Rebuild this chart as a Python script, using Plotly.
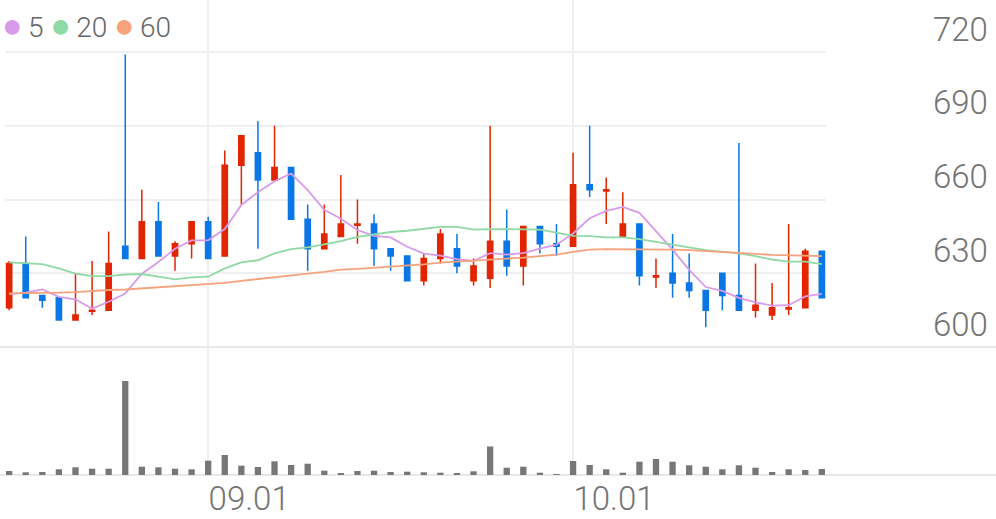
import plotly.graph_objects as go
from plotly.subplots import make_subplots

# trading days (MM.DD)
dates = ["08.13", "08.14", "08.18", "08.19", "08.20", "08.21", "08.22", "08.25", "08.26", "08.27",
         "08.28", "08.29", "09.01", "09.02", "09.03", "09.04", "09.05", "09.08", "09.09", "09.10",
         "09.11", "09.12", "09.15", "09.16", "09.17", "09.18", "09.19", "09.22", "09.23", "09.24",
         "09.25", "09.26", "09.29", "09.30", "10.01", "10.02", "10.10", "10.13", "10.14", "10.15",
         "10.16", "10.17", "10.20", "10.21", "10.22", "10.23", "10.24", "10.27", "10.28", "10.29"]

opens = [616, 634, 621, 620, 611, 614.5, 615, 641, 636, 651,
         637, 642, 651, 637, 674, 679, 668, 673, 652, 640,
         645, 649.5, 650, 640, 637, 627, 636, 640, 627, 628,
         643, 633, 649, 642, 641, 666, 663.5, 645, 650, 628.5,
         630, 626, 623, 630, 621, 615, 613, 615.5, 616, 639]
highs = [635, 645, 621, 620, 630, 635, 647, 719, 664, 659,
         643, 651, 653, 680, 686, 692, 690, 673, 658, 658,
         670, 660, 654, 640, 637, 638, 648, 646, 636, 690,
         656, 649, 649, 650, 679, 690, 669, 663, 650, 636,
         646, 638, 623, 630, 683, 634, 626, 650, 640, 639]
lows = [615, 620, 616, 611, 611, 613, 615, 636, 636, 637,
        631, 636, 636, 637, 658, 640, 668, 652, 631, 640,
        645, 642, 633, 631, 627, 625, 634, 630, 625, 624,
        629, 625, 638, 637, 641, 661, 650, 645, 625, 624,
        620, 620, 608, 615, 615, 612, 611, 613, 616, 620]
closes = [634, 620, 619, 611, 613, 615, 634, 636, 651, 637,
          642, 651, 636, 674, 686, 668, 673, 652, 640, 646,
          650, 650, 640, 637, 627, 636, 646, 633, 633, 643,
          633, 649, 642, 641, 666, 664, 664, 650, 629, 629,
          626, 623, 615, 621, 615, 617, 616, 616, 639, 620]

ma5 = [621.5, 622.1, 623.4, 620.4, 619.4, 615.6, 618.4, 621.8, 629.8, 634.6,
       640.0, 643.4, 643.4, 648.0, 657.8, 663.0, 667.4, 670.6, 663.8, 655.8,
       652.2, 647.6, 645.2, 644.6, 640.8, 638.0, 637.2, 635.8, 635.0, 638.2,
       637.6, 638.2, 640.0, 641.6, 646.2, 652.4, 655.4, 657.0, 654.6, 647.2,
       639.6, 631.4, 624.4, 622.8, 620.0, 618.2, 616.8, 617.0, 620.6, 621.6]
ma20 = [634.4, 634.0, 633.7, 632.0, 629.9, 628.8, 628.8, 629.5, 629.7, 628.6,
        627.5, 628.3, 628.6, 632.0, 634.4, 635.3, 638.1, 639.8, 640.5, 641.8,
        643.1, 644.8, 645.9, 646.8, 647.3, 648.2, 648.9, 648.9, 647.8, 648.0,
        648.0, 647.8, 647.8, 646.5, 645.2, 645.1, 644.6, 644.6, 643.9, 642.8,
        641.8, 640.5, 639.4, 638.7, 638.1, 637.0, 635.6, 634.7, 634.7, 633.7]
ma60 = [621.8, 621.8, 622.1, 622.1, 622.3, 622.9, 623.2, 623.4, 623.8, 624.2,
        624.8, 625.2, 625.6, 626.1, 626.9, 627.7, 628.6, 629.4, 629.9, 630.6,
        631.5, 631.8, 632.2, 632.6, 633.0, 633.6, 634.3, 634.8, 635.3, 635.8,
        636.0, 636.4, 637.0, 637.6, 638.7, 639.6, 639.8, 639.8, 639.6, 639.6,
        639.6, 639.4, 639.1, 638.7, 638.3, 637.9, 637.5, 637.4, 637.4, 637.0]

# volume (thousand shares)
volumes = [40, 27, 30, 57, 77, 63, 63, 940, 83, 77,
           63, 57, 143, 200, 93, 80, 137, 100, 113, 43,
           20, 40, 43, 30, 33, 27, 23, 17, 37, 285,
           73, 83, 23, 7, 140, 100, 57, 23, 133, 160,
           133, 97, 83, 57, 97, 73, 30, 57, 50, 60]

price_ticks = [600, 630, 660, 690, 720]
date_ticks = ["09.01", "10.01"]

ma_lines = [("5", ma5, "#d79be9"), ("20", ma20, "#8fd9a4"), ("60", ma60, "#f6a27c")]

RED = "#e22500"
BLUE = "#0b76e6"
FONT = dict(family="Roboto", size=33, color="#747474", weight=300)

fig = make_subplots(rows=2, cols=1, shared_xaxes=False, vertical_spacing=0)

fig.add_trace(
    go.Candlestick(
        x=dates, open=opens, high=highs, low=lows, close=closes,
        increasing=dict(line=dict(color=RED, width=1.5), fillcolor=RED),
        decreasing=dict(line=dict(color=BLUE, width=1.5), fillcolor=BLUE),
        showlegend=False, hoverinfo='skip'
    ),
    row=1, col=1
)

for name, vals, color in ma_lines:
    fig.add_trace(
        go.Scatter(x=dates, y=vals, mode='lines', name=name, line=dict(color=color, width=1.8),
                   showlegend=False, hoverinfo='skip'),
        row=1, col=1
    )

fig.add_trace(
    go.Bar(x=dates, y=volumes, marker=dict(color="#777777", line=dict(width=0)),
           showlegend=False, hoverinfo='skip'),
    row=2, col=1
)

W, H = 996, 519
x_dom = [5 / W, 826 / W]

fig.update_layout(
    width=W, height=H,
    margin=dict(l=0, r=0, t=0, b=0, autoexpand=False),
    paper_bgcolor='white', plot_bgcolor='white',
    font=FONT,
    boxgap=0.55,
    bargap=0.62,
    showlegend=False,
    xaxis=dict(domain=x_dom, type='category', range=[-0.25, 49.25], automargin=False,
               rangeslider=dict(visible=False), showgrid=True, gridcolor="#f0f0f0", gridwidth=2,
               tickmode='array', tickvals=date_ticks, showticklabels=False,
               showline=False, zeroline=False),
    xaxis2=dict(domain=x_dom, type='category', range=[-0.25, 49.25], matches='x', automargin=False,
                showgrid=True, gridcolor="#f0f0f0", gridwidth=2,
                tickmode='array', tickvals=date_ticks, ticktext=date_ticks,
                ticklabelshift=41, ticklabelstandoff=1,
                showline=False, zeroline=False, tickfont=FONT),
    yaxis=dict(domain=[1 - 347 / H, 1], range=[600, 741.2], side='right', automargin=False,
               tickmode='array', tickvals=price_ticks,
               showgrid=True, gridcolor="#f0f0f0", gridwidth=2, zeroline=False,
               ticklabelstandoff=106, ticklabelshift=-23, tickfont=FONT),
    yaxis2=dict(domain=[1 - 475 / H, 1 - 347 / H], range=[0, 1280], automargin=False,
                showgrid=False, showticklabels=False, zeroline=False),
)

# moving-average key, top left
key = " ".join(
    f'<span style="color:{c};font-family:DejaVu Sans;font-size:34px">●</span>'
    f'<span style="font-size:22px"> </span>{n}' for n, _, c in ma_lines
)
fig.add_annotation(xref='paper', yref='paper', x=0, y=1 - 25 / H, xanchor='left', yanchor='middle',
                   text=key, showarrow=False,
                   font=dict(family="Roboto", size=28, color="#666666", weight=300))

# full-width base lines under price and volume panels
for yp in (1 - 347 / H, 1 - 475 / H):
    fig.add_shape(type='line', xref='paper', yref='paper', x0=0, x1=1, y0=yp, y1=yp,
                  line=dict(color="#e9e9e9", width=2), layer='below')

# no default page margin around the chart, no toolbar
fig.write_html("out.html", config={"displayModeBar": False},
               post_script="document.body.style.margin='0';")
